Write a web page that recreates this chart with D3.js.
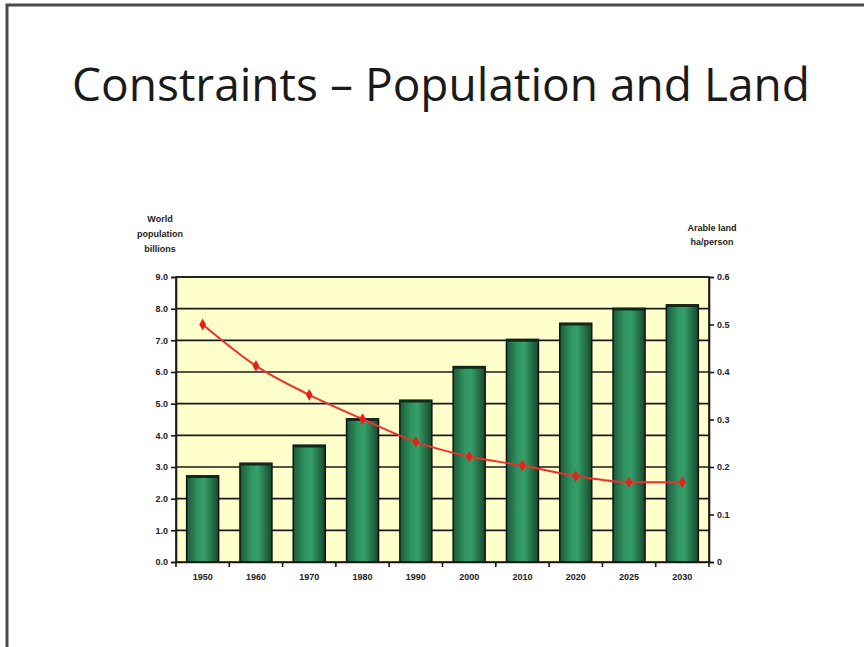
<!DOCTYPE html>
<html>
<head>
<meta charset="utf-8">
<script src="https://cdn.jsdelivr.net/npm/d3@7"></script>
<style>
  html, body { margin: 0; padding: 0; background: #fff; }
  svg { display: block; }
</style>
</head>
<body>
<svg id="chart" width="864" height="647"></svg>
<script>
// Years shown along the bottom axis
const years = ["1950", "1960", "1970", "1980", "1990", "2000", "2010", "2020", "2025", "2030"];
// World population, billions (bars, left axis)
const population = [2.72, 3.12, 3.69, 4.52, 5.11, 6.17, 7.03, 7.54, 8.01, 8.12];
// Arable land per person, hectares (line, right axis)
const arableLand = [0.50, 0.413, 0.352, 0.301, 0.253, 0.222, 0.203, 0.181, 0.168, 0.168];
// Axis tick values
const leftTicks = [0, 1, 2, 3, 4, 5, 6, 7, 8, 9];
const rightTicks = [0, 0.1, 0.2, 0.3, 0.4, 0.5, 0.6];

const svg = d3.select("#chart");

// Slide frame
svg.append("path")
  .attr("d", "M7,647 L7,5 L864,5")
  .attr("fill", "none")
  .attr("stroke", "#4a4a4a")
  .attr("stroke-width", 3);

// Title
svg.append("text")
  .attr("x", 72).attr("y", 101)
  .attr("font-family", "'Open Sans', sans-serif")
  .attr("font-size", 46)
  .attr("fill", "#1a1a1a")
  .attr("textLength", 738)
  .attr("lengthAdjust", "spacingAndGlyphs")
  .text("Constraints \u2013 Population and Land");

const plot = { left: 176, right: 709, top: 277, bottom: 562 };

const x = d3.scaleBand().domain(years).range([plot.left, plot.right]).paddingInner(0.4).paddingOuter(0.2);
const yLeft = d3.scaleLinear().domain([0, 9]).range([plot.bottom, plot.top]);
const yRight = d3.scaleLinear().domain([0, 0.6]).range([plot.bottom, plot.top]);

// Bar gradient: darker edges, lighter centre
const defs = svg.append("defs");
const grad = defs.append("linearGradient").attr("id", "barGrad").attr("x1", "0").attr("x2", "1").attr("y1", "0").attr("y2", "0");
grad.append("stop").attr("offset", "0%").attr("stop-color", "#1c5a39");
grad.append("stop").attr("offset", "35%").attr("stop-color", "#2f9460");
grad.append("stop").attr("offset", "55%").attr("stop-color", "#36a06a");
grad.append("stop").attr("offset", "100%").attr("stop-color", "#17482d");

// Plot background
svg.append("rect")
  .attr("x", plot.left).attr("y", plot.top)
  .attr("width", plot.right - plot.left).attr("height", plot.bottom - plot.top)
  .attr("fill", "#ffffcc");

// Horizontal gridlines
svg.append("g").selectAll("line").data(leftTicks.filter(d => d > 0)).join("line")
  .attr("x1", plot.left).attr("x2", plot.right)
  .attr("y1", d => yLeft(d)).attr("y2", d => yLeft(d))
  .attr("stroke", "#1a1a1a").attr("stroke-width", 1.6);

// Bars
svg.append("g").selectAll("rect").data(population).join("rect")
  .attr("x", (d, i) => x(years[i]))
  .attr("y", d => yLeft(d))
  .attr("width", x.bandwidth())
  .attr("height", d => plot.bottom - yLeft(d))
  .attr("fill", "url(#barGrad)")
  .attr("stroke", "#111")
  .attr("stroke-width", 1.5);

// Dark cap on top of each bar
svg.append("g").selectAll("line").data(population).join("line")
  .attr("x1", (d, i) => x(years[i]))
  .attr("x2", (d, i) => x(years[i]) + x.bandwidth())
  .attr("y1", d => yLeft(d) + 1).attr("y2", d => yLeft(d) + 1)
  .attr("stroke", "#0d2a1a").attr("stroke-width", 2.5);

// Plot border
svg.append("rect")
  .attr("x", plot.left).attr("y", plot.top)
  .attr("width", plot.right - plot.left).attr("height", plot.bottom - plot.top)
  .attr("fill", "none").attr("stroke", "#1a1a1a").attr("stroke-width", 1.6);

// Arable land line
const cx = (d, i) => x(years[i]) + x.bandwidth() / 2;
const line = d3.line().x(cx).y(d => yRight(d)).curve(d3.curveMonotoneX);
svg.append("path")
  .datum(arableLand)
  .attr("d", line)
  .attr("fill", "none")
  .attr("stroke", "#f0302a")
  .attr("stroke-width", 2);
svg.append("g").selectAll("path").data(arableLand).join("path")
  .attr("transform", (d, i) => `translate(${cx(d, i)},${yRight(d)})`)
  .attr("d", d3.symbol(d3.symbolDiamond, 40))
  .attr("fill", "#e8201a");

const tickFont = "'Liberation Sans', Arial, sans-serif";
const tickSize = 9;

// Left axis
const leftAxis = d3.axisLeft(yLeft).tickValues(leftTicks).tickFormat(d3.format(".1f")).tickSize(5).tickPadding(3);
const gl = svg.append("g").attr("transform", `translate(${plot.left},0)`).call(leftAxis);
gl.select(".domain").attr("stroke", "#1a1a1a").attr("stroke-width", 1.6);
gl.selectAll(".tick line").attr("stroke", "#1a1a1a").attr("stroke-width", 1.6);
gl.selectAll(".tick text").attr("font-family", tickFont).attr("font-size", tickSize).attr("font-weight", "bold").attr("fill", "#222");

// Right axis
const rightAxis = d3.axisRight(yRight).tickValues(rightTicks).tickFormat(d => d === 0 ? "0" : d3.format(".1f")(d)).tickSize(5).tickPadding(3);
const gr = svg.append("g").attr("transform", `translate(${plot.right},0)`).call(rightAxis);
gr.select(".domain").attr("stroke", "#1a1a1a").attr("stroke-width", 1.6);
gr.selectAll(".tick line").attr("stroke", "#1a1a1a").attr("stroke-width", 1.6);
gr.selectAll(".tick text").attr("font-family", tickFont).attr("font-size", tickSize).attr("font-weight", "bold").attr("fill", "#222");

// Bottom axis: ticks between categories, labels centred under bars
const bottomAxis = d3.axisBottom(x).tickSize(0).tickPadding(12);
const gb = svg.append("g").attr("transform", `translate(0,${plot.bottom})`).call(bottomAxis);
gb.select(".domain").attr("stroke", "#1a1a1a").attr("stroke-width", 1.6);
gb.selectAll(".tick text").attr("font-family", tickFont).attr("font-size", tickSize).attr("font-weight", "bold").attr("fill", "#222");
const boundaries = d3.range(years.length + 1).map(i => plot.left + i * (plot.right - plot.left) / years.length);
svg.append("g").selectAll("line").data(boundaries).join("line")
  .attr("x1", d => d).attr("x2", d => d)
  .attr("y1", plot.bottom).attr("y2", plot.bottom + 5)
  .attr("stroke", "#1a1a1a").attr("stroke-width", 1.6);

// Axis titles
const leftTitle = ["World", "population", "billions"];
svg.append("g").selectAll("text").data(leftTitle).join("text")
  .attr("x", 160).attr("y", (d, i) => 222 + i * 15)
  .attr("text-anchor", "middle")
  .attr("font-family", tickFont).attr("font-size", tickSize).attr("font-weight", "bold").attr("fill", "#222")
  .text(d => d);

const rightTitle = ["Arable land", "ha/person"];
svg.append("g").selectAll("text").data(rightTitle).join("text")
  .attr("x", 712).attr("y", (d, i) => 231 + i * 14)
  .attr("text-anchor", "middle")
  .attr("font-family", tickFont).attr("font-size", tickSize).attr("font-weight", "bold").attr("fill", "#222")
  .text(d => d);
</script>
</body>
</html>
